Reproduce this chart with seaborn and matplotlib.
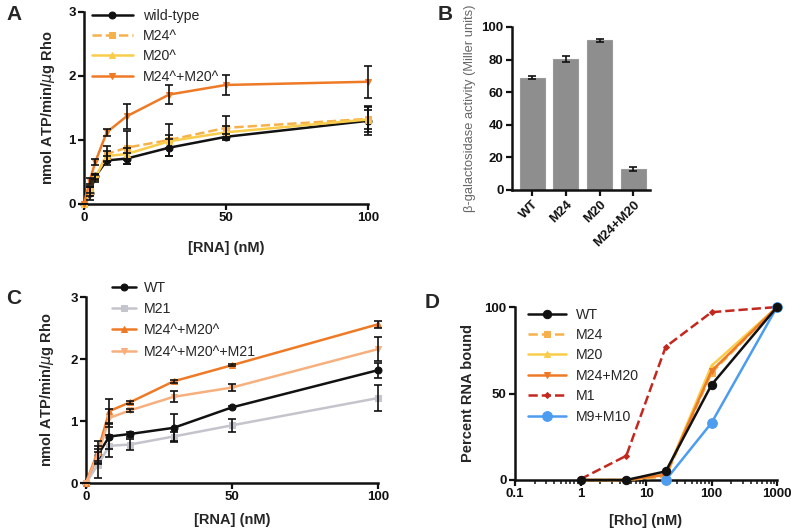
import numpy as np
import pandas as pd
import matplotlib
matplotlib.use("Agg")
import matplotlib.pyplot as plt
from matplotlib.ticker import LogLocator, FuncFormatter, NullFormatter
import seaborn as sns

# ---------------- data ----------------
# Panel A
a_x = [0, 2, 4, 8, 15, 30, 50, 100]
a_wt = [0, 0.17, 0.43, 0.68, 0.71, 0.88, 1.05, 1.30]
a_wt_err = [0, 0.10, 0.04, 0.07, 0.09, 0.13, 0.05, 0.22]
a_m24 = [0, 0.20, 0.40, 0.78, 0.88, 1.00, 1.19, 1.33]
a_m24_err = [0, 0.08, 0.05, 0.13, 0.26, 0.25, 0.18, 0.20]
a_m20 = [0, 0.22, 0.42, 0.75, 0.78, 0.98, 1.12, 1.32]
a_m20_err = [0, 0.05, 0.05, 0.08, 0.10, 0.10, 0.10, 0.15]
a_dbl = [0, 0.36, 0.66, 1.12, 1.37, 1.71, 1.86, 1.91]
a_dbl_err = [0, 0.05, 0.05, 0.05, 0.20, 0.15, 0.15, 0.25]

# Panel B
b_cats = ["WT", "M24", "M20", "M24+M20"]
b_vals = [69, 80.5, 92, 13]
b_err = [1.2, 1.8, 0.9, 1.3]

# Panel C
c_x = [0, 4, 8, 15, 30, 50, 100]
c_wt = [0, 0.45, 0.75, 0.79, 0.89, 1.22, 1.82]
c_wt_err = [0, 0.15, 0.20, 0.04, 0.23, 0.03, 0.12]
c_m21 = [0, 0.29, 0.60, 0.62, 0.75, 0.93, 1.37]
c_m21_err = [0, 0.21, 0.18, 0.09, 0.08, 0.11, 0.21]
c_dbl = [0, 0.50, 1.16, 1.30, 1.64, 1.90, 2.56]
c_dbl_err = [0, 0.17, 0.19, 0.02, 0.02, 0.02, 0.06]
c_tri = [0, 0.45, 1.05, 1.17, 1.39, 1.54, 2.16]
c_tri_err = [0, 0.10, 0.15, 0.03, 0.09, 0.06, 0.19]

# Panel D
d_x = [1, 5, 20, 100, 1000]
d_wt = [0, 0, 5, 55, 100]
d_m24 = [0, 0, 2, 62, 100]
d_m20 = [0, 0, 3, 66, 100]
d_dbl = [0, 0, 3, 63, 100]
d_m1 = [0.5, 14, 77, 97, 100]
d_m9m10_x = [20, 100, 1000]
d_m9m10 = [0, 33, 100]

# ---------------- style ----------------
sns.set_style("ticks")
plt.rcParams['font.family'] = ['Liberation Sans', 'DejaVu Sans']
plt.rcParams['mathtext.fontset'] = 'dejavusans'

W, H = 791, 530
fig = plt.figure(figsize=(W / 100, H / 100), dpi=100)

def axbox(l, t, r, b):
    return fig.add_axes([l / W, 1 - b / H, (r - l) / W, (b - t) / H])

BLACK = "#111111"
LORANGE = "#F6B14B"
YELLOW = "#F9CD4B"
ORANGE = "#EE7A26"
GRAY = "#C4C4CC"
PEACH = "#F7B07D"
DRED = "#C3281F"
BLUE = "#4C9CF0"

TICKSIZE = 9.5
LABSIZE = 10.5
LEGSIZE = 10.2

def style_axes(ax):
    for s in ["top", "right"]:
        ax.spines[s].set_visible(False)
    for s in ["left", "bottom"]:
        ax.spines[s].set_linewidth(1.8)
        ax.spines[s].set_color(BLACK)
    ax.tick_params(direction="out", length=4, width=1.6, labelsize=TICKSIZE, colors=BLACK, pad=2)
    for lab in ax.get_xticklabels() + ax.get_yticklabels():
        lab.set_fontweight("bold")

def series(ax, x, y, err, color, marker, label, ls="-", ms=5):
    df = pd.DataFrame({"x": x, "y": y})
    sns.lineplot(data=df, x="x", y="y", ax=ax, color=color, marker=marker,
                 markersize=ms, markeredgecolor=color, linewidth=1.8,
                 linestyle=ls, label=label, errorbar=None, clip_on=False, zorder=3)
    if err is not None:
        ax.errorbar(x, y, yerr=err, fmt="none", ecolor=BLACK, elinewidth=1.2,
                    capsize=3, capthick=1.2, zorder=4, clip_on=False)

# ---------------- Panel A ----------------
axA = axbox(84, 12, 368, 204)
series(axA, a_x, a_wt, a_wt_err, BLACK, "o", "wild-type")
series(axA, a_x, a_m24, a_m24_err, LORANGE, "s", "M24^", ls="--")
series(axA, a_x, a_m20, a_m20_err, YELLOW, "^", "M20^")
series(axA, a_x, a_dbl, a_dbl_err, ORANGE, "v", "M24^+M20^")
axA.set_xlim(0, 100)
axA.set_ylim(0, 3)
axA.set_xticks([0, 50, 100])
axA.set_yticks([0, 1, 2, 3])
axA.set_xlabel("[RNA] (nM)", fontsize=LABSIZE, fontweight="bold", labelpad=12)
axA.set_ylabel("nmol ATP/min/$\\mu$g Rho", fontsize=LABSIZE, fontweight="bold", labelpad=8)
style_axes(axA)
axA.legend(loc="upper left", bbox_to_anchor=(86 / W, 1 - 3 / H), bbox_transform=fig.transFigure,
           frameon=False, fontsize=LEGSIZE, handlelength=2.9, handletextpad=0.7,
           labelspacing=0.45, borderaxespad=0)

# ---------------- Panel B ----------------
axB = axbox(512, 27, 650, 190)
dfB = pd.DataFrame({"cat": b_cats, "val": b_vals})
sns.barplot(data=dfB, x="cat", y="val", ax=axB, color="#8E8E8E", width=0.74,
            errorbar=None, edgecolor="#9a9a9a", linewidth=0.8, saturation=1)
axB.errorbar(range(len(b_cats)), b_vals, yerr=b_err, fmt="none", ecolor=BLACK,
             elinewidth=1.2, capsize=3, capthick=1.2, zorder=4)
axB.set_xlim(-0.6, 3.5)
axB.set_ylim(0, 100)
axB.set_yticks([0, 20, 40, 60, 80, 100])
axB.set_xlabel("")
axB.set_ylabel("β-galactosidase activity (Miller units)", fontsize=9.3, color="#666666",
               fontweight="normal", labelpad=4)
axB.yaxis.label.set_y(0.5)
style_axes(axB)
for lab in axB.get_xticklabels():
    lab.set_rotation(45)
    lab.set_ha("right")
    lab.set_rotation_mode("anchor")

# ---------------- Panel C ----------------
axC = axbox(86, 297, 378, 483)
series(axC, c_x, c_wt, c_wt_err, BLACK, "o", "WT")
series(axC, c_x, c_m21, c_m21_err, GRAY, "s", "M21")
series(axC, c_x, c_dbl, c_dbl_err, ORANGE, "^", "M24^+M20^")
series(axC, c_x, c_tri, c_tri_err, PEACH, "v", "M24^+M20^+M21")
axC.set_xlim(0, 100)
axC.set_ylim(0, 3)
axC.set_xticks([0, 50, 100])
axC.set_yticks([0, 1, 2, 3])
axC.set_xlabel("[RNA] (nM)", fontsize=LABSIZE, fontweight="bold", labelpad=7)
axC.set_ylabel("nmol ATP/min/$\\mu$g Rho", fontsize=LABSIZE, fontweight="bold", labelpad=10)
style_axes(axC)
axC.legend(loc="upper left", bbox_to_anchor=(106 / W, 1 - 275 / H), bbox_transform=fig.transFigure,
           frameon=False, fontsize=LEGSIZE, handlelength=1.7, handletextpad=0.55,
           labelspacing=0.52, borderaxespad=0)

# ---------------- Panel D ----------------
axD = axbox(515, 307, 777, 480)
series(axD, d_x, d_m24, None, LORANGE, "s", "M24", ls="--")
series(axD, d_x, d_m20, None, YELLOW, "^", "M20")
series(axD, d_x, d_dbl, None, ORANGE, "v", "M24+M20")
series(axD, d_x, d_m1, None, DRED, "D", "M1", ls="--", ms=3)
series(axD, d_m9m10_x, d_m9m10, None, BLUE, "o", "M9+M10", ms=7)
series(axD, d_x, d_wt, None, BLACK, "o", "WT", ms=6)
h, l = axD.get_legend_handles_labels()
order = [l.index(k) for k in ["WT", "M24", "M20", "M24+M20", "M1", "M9+M10"]]
axD.set_xscale("log")
axD.set_xlim(0.1, 1000)
axD.set_ylim(0, 100)
axD.set_yticks([0, 50, 100])
axD.xaxis.set_major_locator(LogLocator(base=10, numticks=10))
axD.xaxis.set_minor_locator(LogLocator(base=10, subs=np.arange(2, 10), numticks=20))
axD.xaxis.set_major_formatter(FuncFormatter(lambda v, p: "%g" % v))
axD.xaxis.set_minor_formatter(NullFormatter())
axD.set_xlabel("[Rho] (nM)", fontsize=LABSIZE, fontweight="bold", labelpad=10)
axD.set_ylabel("Percent RNA bound", fontsize=LABSIZE, fontweight="bold", labelpad=7)
style_axes(axD)
axD.tick_params(which="minor", direction="out", length=3, width=1.2)
axD.legend([h[i] for i in order], [l[i] for i in order],
           loc="upper left", bbox_to_anchor=(522 / W, 1 - 302 / H), bbox_transform=fig.transFigure,
           frameon=False, fontsize=LEGSIZE, handlelength=2.7, handletextpad=0.7,
           labelspacing=0.45, borderaxespad=0)

# ---------------- panel letters ----------------
for letter, (px, py) in {"A": (6, 14), "B": (438, 14), "C": (6, 298), "D": (425, 303)}.items():
    fig.text(px / W, 1 - py / H, letter, fontsize=15, fontweight="bold", va="center", ha="left")

fig.savefig("out.png", dpi=100)
